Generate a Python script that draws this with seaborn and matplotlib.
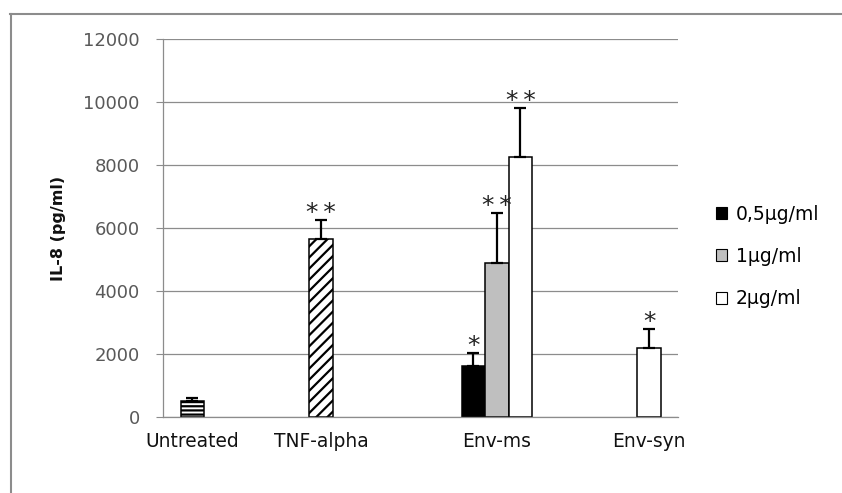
import numpy as np
import pandas as pd
import matplotlib
matplotlib.use("Agg")
import matplotlib.pyplot as plt
import seaborn as sns
from matplotlib.patches import Patch
from matplotlib.lines import Line2D

# ---------------- data ----------------
categories = ["Untreated", "TNF-alpha", "Env-ms", "Env-syn"]
series = ["control", "0,5µg/ml", "1µg/ml", "2µg/ml"]
legend_series = ["0,5µg/ml", "1µg/ml", "2µg/ml"]

bar_category = ["Untreated", "TNF-alpha", "Env-ms", "Env-ms", "Env-ms", "Env-syn"]
bar_series = ["control", "control", "0,5µg/ml", "1µg/ml", "2µg/ml", "2µg/ml"]
bar_values = [510, 5650, 1620, 4890, 8260, 2180]
bar_errors = [95, 615, 415, 1595, 1540, 605]
bar_stars = ["", "**", "*", "**", "**", "*"]

y_ticks = [0, 2000, 4000, 6000, 8000, 10000, 12000]
y_label = "IL-8 (pg/ml)"

# ---------------- style ----------------
series_colors = {"control": "white", "0,5µg/ml": "black", "1µg/ml": "#BFBFBF", "2µg/ml": "white"}
control_hatch = {"Untreated": "----", "TNF-alpha": "///"}
grid_color = "#8C8C8C"
plt.rcParams["hatch.linewidth"] = 1.6

df = pd.DataFrame({"category": bar_category, "series": bar_series,
                   "value": bar_values, "error": bar_errors, "stars": bar_stars})

fig = plt.figure(figsize=(8.42, 4.93), dpi=100)
ax = fig.add_axes([163.3 / 842, 76.3 / 493, 515 / 842, 377.4 / 493])

sns.barplot(data=df, x="category", y="value", hue="series", order=categories,
            hue_order=series, palette=series_colors, saturation=1, width=0.73,
            errorbar=None, edgecolor="black", linewidth=1.1, legend=False, ax=ax)

# locate each drawn bar
bars = [p for p in ax.patches if p.get_height() > 0]
centers = {}
for i, row in df.iterrows():
    ci = categories.index(row["category"])
    best = min(bars, key=lambda p: abs(round(p.get_x() + p.get_width() / 2) - ci) * 1e6
               + abs(p.get_height() - row["value"]))
    cx = best.get_x() + best.get_width() / 2
    centers[i] = cx
    if row["series"] == "control":
        best.set_hatch(control_hatch[row["category"]])
    ax.errorbar(cx, row["value"], yerr=[[0], [row["error"]]], fmt="none",
                ecolor="black", elinewidth=1.6, capsize=4, capthick=1.6, zorder=4)
    if row["stars"]:
        ax.annotate("\u2009".join(row["stars"]), xy=(cx, row["value"] + row["error"]),
                    xytext=(0, 0), textcoords="offset points", ha="center",
                    va="baseline", fontsize=18, color="#222222", zorder=5)

# category labels centred under the bars of each category
tick_pos = []
for c in categories:
    xs = [centers[i] for i in df.index if df.loc[i, "category"] == c]
    tick_pos.append(np.mean(xs))
ax.set_xticks(tick_pos)
ax.set_xticklabels(categories, fontsize=13.4, color="#111111")
ax.tick_params(axis="x", length=0, pad=11)
ax.set_xlim(-0.5, len(categories) - 0.5)

ax.set_ylim(0, 12000)
ax.set_yticks(y_ticks)
ax.set_yticklabels([str(t) for t in y_ticks], fontsize=13, color="#595959")
ax.tick_params(axis="y", length=5, width=0.8, color=grid_color, pad=12)
ax.yaxis.grid(True, color=grid_color, linewidth=0.9)
ax.set_axisbelow(True)
ax.set_xlabel("")
ax.set_ylabel(y_label, fontsize=11.5, fontweight="bold", labelpad=12, color="#111111")

for s in ["top", "right"]:
    ax.spines[s].set_visible(False)
for s in ["left", "bottom"]:
    ax.spines[s].set_color(grid_color)
    ax.spines[s].set_linewidth(0.9)

handles = [Patch(facecolor=series_colors[s], edgecolor="black", linewidth=0.8, label=s)
           for s in legend_series]
fig.legend(handles=handles, loc="center left", bbox_to_anchor=(716 / 842, 236.5 / 493),
           frameon=False, fontsize=13.5, handlelength=0.6, handleheight=0.6,
           handletextpad=0.45, labelspacing=1.25, borderpad=0, borderaxespad=0)

# outer chart border (top and left visible)
fig.add_artist(Line2D([10 / 842, 1], [1 - 14 / 493, 1 - 14 / 493],
                      transform=fig.transFigure, color="#8C8C8C", linewidth=1.5))
fig.add_artist(Line2D([10.5 / 842, 10.5 / 842], [0, 1 - 14 / 493],
                      transform=fig.transFigure, color="#8C8C8C", linewidth=1.5))

fig.savefig("out.png", dpi=100, facecolor="white")
